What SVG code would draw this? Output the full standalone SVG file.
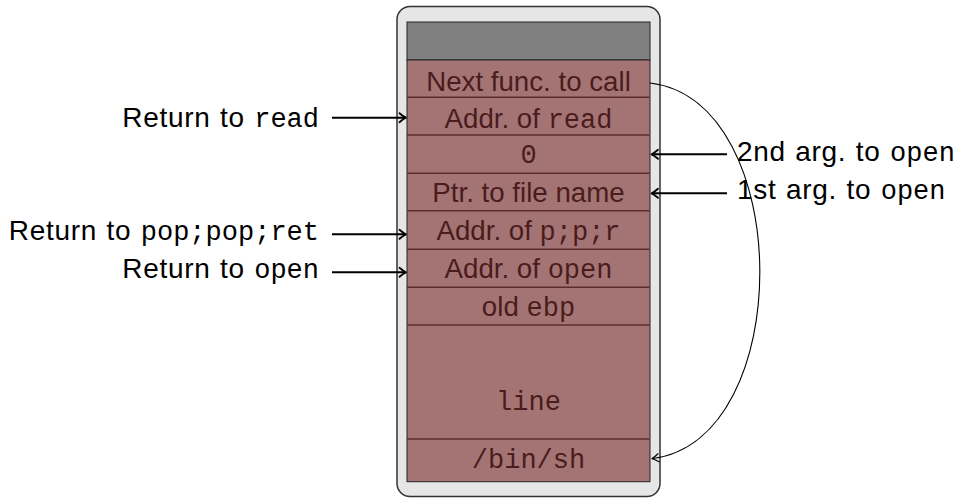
<svg xmlns="http://www.w3.org/2000/svg" width="960" height="498" viewBox="0 0 960 498">
  <style>
    .sans { font-family: "Liberation Sans", Arial, sans-serif; font-size: 27.7px; }
    .mono { font-family: "Liberation Mono", "Courier New", monospace; font-size: 27px; }
    .cell { fill: #4a1c1c; text-anchor: middle; }
    .lbl { fill: #000; font-size: 28px; letter-spacing: 0.7px; word-spacing: 1px; }
    .lbl .mono { letter-spacing: 0; }
    .sep { stroke: #5e2c2c; stroke-width: 1.5; }
    .ptr { stroke: #000; stroke-width: 2; fill: none; marker-end: url(#tip); }
    .jump { stroke: #000; stroke-width: 1.1; fill: none; marker-end: url(#tipThin); }
  </style>
  <defs>
    <marker id="tip" markerUnits="userSpaceOnUse" markerWidth="14" markerHeight="14" refX="0" refY="0" viewBox="-8 -7 10 14" orient="auto" overflow="visible">
      <path d="M-6,-4.5 Q-2,-1 0.5,0 Q-2,1 -6,4.5" fill="none" stroke="#000" stroke-width="1.8" stroke-linecap="round" stroke-linejoin="round"/>
    </marker>
    <marker id="tipThin" markerUnits="userSpaceOnUse" markerWidth="14" markerHeight="14" refX="0" refY="0" viewBox="-8 -7 10 14" orient="auto" overflow="visible">
      <path d="M-6,-4 Q-2,-1 0.5,0 Q-2,1 -6,4" fill="none" stroke="#000" stroke-width="1.2" stroke-linecap="round" stroke-linejoin="round"/>
    </marker>
  </defs>

  <!-- stack frame container -->
  <g id="frame">
    <rect x="397" y="6.5" width="263" height="490" rx="13" ry="13" fill="#e6e6e6" stroke="#333" stroke-width="1.5"/>
    <rect x="407" y="22" width="243" height="38" fill="#808080" stroke="#222" stroke-width="1"/>
    <rect x="407" y="60" width="243" height="421.7" fill="#a47474" stroke="#222" stroke-width="1"/>
  </g>

  <!-- slots -->
  <g id="slot-next">
    <text class="sans cell" x="528.5" y="90.7">Next func. to call</text>
  </g>
  <g id="slot-read">
    <line class="sep" x1="407" y1="97.3" x2="650" y2="97.3"/>
    <text class="sans cell" x="528.5" y="128">Addr. of <tspan class="mono">read</tspan></text>
  </g>
  <g id="slot-zero">
    <line class="sep" x1="407" y1="135" x2="650" y2="135"/>
    <text class="mono cell" x="528.5" y="163.3">0</text>
  </g>
  <g id="slot-fname">
    <line class="sep" x1="407" y1="173.3" x2="650" y2="173.3"/>
    <text class="sans cell" x="528.5" y="202.3">Ptr. to file name</text>
  </g>
  <g id="slot-ppr">
    <line class="sep" x1="407" y1="210.7" x2="650" y2="210.7"/>
    <text class="sans cell" x="528.5" y="240">Addr. of <tspan class="mono">p;p;r</tspan></text>
  </g>
  <g id="slot-open">
    <line class="sep" x1="407" y1="249.3" x2="650" y2="249.3"/>
    <text class="sans cell" x="528.5" y="278.3">Addr. of <tspan class="mono">open</tspan></text>
  </g>
  <g id="slot-ebp">
    <line class="sep" x1="407" y1="287.3" x2="650" y2="287.3"/>
    <text class="sans cell" x="528.5" y="316">old <tspan class="mono">ebp</tspan></text>
  </g>
  <g id="slot-line">
    <line class="sep" x1="407" y1="325" x2="650" y2="325"/>
    <text class="mono cell" x="528.5" y="410">line</text>
  </g>
  <g id="slot-binsh">
    <line class="sep" x1="407" y1="439" x2="650" y2="439"/>
    <text class="mono cell" x="528.5" y="468.3">/bin/sh</text>
  </g>

  <!-- annotations -->
  <g id="label-ret-read">
    <text class="sans lbl" x="319" y="127.3" text-anchor="end">Return to <tspan class="mono">read</tspan></text>
  </g>
  <g id="label-ret-ppr">
    <text class="sans lbl" x="319" y="240" text-anchor="end">Return to <tspan class="mono">pop;pop;ret</tspan></text>
  </g>
  <g id="label-ret-open">
    <text class="sans lbl" x="319" y="278.3" text-anchor="end">Return to <tspan class="mono">open</tspan></text>
  </g>
  <g id="label-arg2">
    <text class="sans lbl" x="737" y="160.7">2nd arg. to <tspan class="mono">open</tspan></text>
  </g>
  <g id="label-arg1">
    <text class="sans lbl" x="737" y="199">1st arg. to <tspan class="mono">open</tspan></text>
  </g>

  <!-- connectors -->
  <g id="connectors">
    <line class="ptr" x1="332" y1="117.7" x2="405.5" y2="117.7"/>
    <line class="ptr" x1="332" y1="234.3" x2="405.5" y2="234.3"/>
    <line class="ptr" x1="332" y1="272.3" x2="405.5" y2="272.3"/>
    <line class="ptr" x1="727" y1="154.3" x2="652" y2="154.3"/>
    <line class="ptr" x1="727" y1="193.3" x2="652" y2="193.3"/>
    <path class="jump" d="M650,83 C795,100 797,440 652.5,458.5"/>
  </g>
</svg>
